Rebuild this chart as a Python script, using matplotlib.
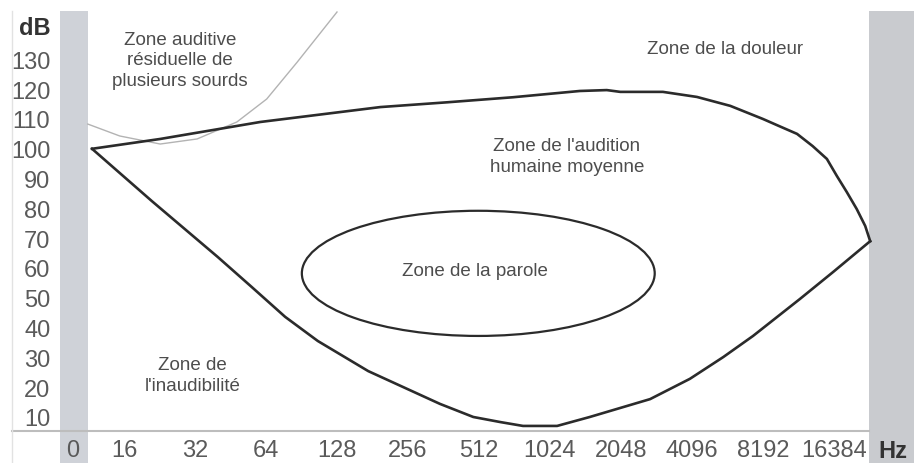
import matplotlib
matplotlib.use("Agg")
import matplotlib.pyplot as plt
from matplotlib.patches import Ellipse
from matplotlib.lines import Line2D

plt.rcParams['font.family'] = ['Liberation Sans', 'DejaVu Sans']

# frequency axis: position index -> label (octave spacing)
freq_labels = ["0", "16", "32", "64", "128", "256", "512", "1024",
               "2048", "4096", "8192", "16384"]
freq_pos = [0.28, 1, 2, 3, 4, 5, 6, 7, 8, 9, 10, 11]
db_ticks = [10, 20, 30, 40, 50, 60, 70, 80, 90, 100, 110, 120, 130]

# upper limit of average human hearing (pain threshold)
upper_x = [0.55, 1.51, 2.92, 4.61, 5.55, 6.48, 7.42, 7.80, 7.99, 8.59,
           9.07, 9.54, 10.00, 10.22, 10.48, 10.70, 10.90, 11.04, 11.18,
           11.32, 11.44, 11.51]
upper_db = [100, 103.3, 109.0, 114.0, 115.6, 117.3, 119.4, 119.7, 119.1, 119.1,
            117.4, 114.4, 110.0, 107.7, 105.0, 100.9, 96.6, 90.9, 85.5,
            79.8, 74.1, 69.0]

# lower limit (audibility threshold)
lower_x = [0.55, 1.39, 2.32, 2.80, 3.27, 3.73, 4.44, 5.45, 5.92, 6.30,
           6.62, 7.10, 7.56, 8.41, 8.97, 9.44, 9.86, 10.52, 10.99, 11.51]
lower_db = [100, 82.5, 63.7, 53.6, 43.6, 35.5, 25.4, 14.4, 10.0, 8.3,
            7.0, 7.0, 10.0, 16.0, 22.8, 30.1, 37.2, 49.6, 58.7, 69.0]

# residual hearing of some deaf people
resid_x = [0.49, 0.94, 1.51, 2.03, 2.59, 3.01, 3.44, 4.00]
resid_db = [108.3, 104.3, 101.6, 103.3, 109.0, 116.7, 129.1, 145.9]

# speech zone ellipse
speech_center = (5.99, 58.2)
speech_width = 4.97
speech_height = 42.0

fig = plt.figure(figsize=(9.14, 4.64), dpi=100)
ax = fig.add_axes([60 / 914, 32 / 464, 854 / 914, 420 / 464])
ax.set_xlim(0.0986, 12.127)
ax.set_ylim(5.3, 146.24)

# grey bands at both ends
ax.axvspan(0.0986, 0.493, ymin=-0.077, ymax=1, color='#cfd2d8', lw=0, clip_on=False, zorder=0)
ax.axvspan(11.49, 12.127, ymin=-0.077, ymax=1, color='#c9cbcf', lw=0, clip_on=False, zorder=0)

ax.plot(resid_x, resid_db, color='#b3b3b3', lw=1.0, zorder=2)
ax.plot(upper_x, upper_db, color='#2b2b2b', lw=1.9, zorder=3, solid_joinstyle='round')
ax.plot(lower_x, lower_db, color='#2b2b2b', lw=1.9, zorder=3, solid_joinstyle='round')
ax.add_patch(Ellipse(speech_center, speech_width, speech_height, fill=False,
                     edgecolor='#2b2b2b', lw=1.6, zorder=3))

txt = dict(color='#4d4d4d', fontsize=13.5, ha='center', va='center', linespacing=1.25)
ax.text(1.79, 129.8, "Zone auditive\nrésiduelle de\nplusieurs sourds", **txt)
ax.text(9.46, 133.5, "Zone de la douleur", **txt)
ax.text(7.24, 97.6, "Zone de l'audition\nhumaine moyenne", **txt)
ax.text(5.94, 59.0, "Zone de la parole", **txt)
ax.text(1.97, 24.1, "Zone de\nl'inaudibilité", **txt)

# axis ticks and units
ax.set_xticks(freq_pos + [11.83])
ax.set_xticklabels(freq_labels + ["Hz"])
ax.set_yticks(db_ticks + [141.5])
ax.set_yticklabels([str(v) for v in db_ticks] + ["dB"])
ax.tick_params(length=0, labelsize=17, labelcolor='#5a5a5a')
ax.tick_params(axis='x', pad=6)
ax.tick_params(axis='y', pad=7)
for lab in (ax.get_xticklabels()[-1], ax.get_yticklabels()[-1]):
    lab.set_fontweight('bold')
    lab.set_color('#333333')

for s in ax.spines.values():
    s.set_visible(False)

# bottom rule and faint left edge
ax.add_line(Line2D([(12 - 60) / 854, (869 - 60) / 854], [0, 0], transform=ax.transAxes,
                   color='#bdbdbd', lw=1.5, clip_on=False))
ax.add_line(Line2D([(12 - 60) / 854] * 2, [-0.077, 1], transform=ax.transAxes,
                   color='#e2e2e2', lw=1.0, clip_on=False))

fig.savefig("out.png", dpi=100)
